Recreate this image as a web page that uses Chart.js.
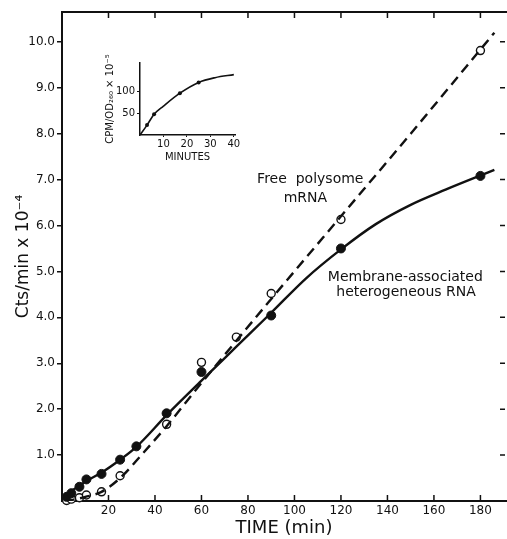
<!DOCTYPE html>
<html>
<head>
<meta charset="utf-8">
<script src="https://cdn.jsdelivr.net/npm/chart.js@4.4.1/dist/chart.umd.min.js"></script>
<style>
  html, body { margin: 0; padding: 0; background: #fff; }
  #wrap { position: relative; width: 507px; height: 539px; }
  #mainChart { position: absolute; left: 0; top: 0; }
  #insetChart { position: absolute; left: 98px; top: 48px; }
</style>
</head>
<body>
<div id="wrap">
  <canvas id="mainChart" width="507" height="539"></canvas>
  <canvas id="insetChart" width="142" height="115"></canvas>
</div>
<script>
var memTime = [2, 4, 7.5, 10.5, 17, 25, 32, 45, 60, 90, 120, 180];
var memCts = [0.09, 0.17, 0.31, 0.47, 0.59, 0.9, 1.19, 1.91, 2.81, 4.04, 5.5, 7.08];
var freeTime = [2, 4, 7.5, 10.5, 17, 25, 45, 60, 75, 90, 120, 180];
var freeCts = [0.01, 0.04, 0.07, 0.13, 0.2, 0.55, 1.67, 3.02, 3.57, 4.52, 6.13, 9.81];

// hand-drawn curves
var memCurveTime = [0, 5, 10, 17, 25, 32, 45, 60, 75, 90, 105, 120, 135, 150, 165, 186];
var memCurveCts = [0.08, 0.25, 0.42, 0.62, 0.9, 1.18, 1.87, 2.62, 3.36, 4.1, 4.85, 5.48, 6.03, 6.45, 6.78, 7.21];
var freeCurveTime = [1, 5, 10, 17, 25, 35, 45, 60, 90, 120, 150, 186];
var freeCurveCts = [0, 0.03, 0.09, 0.2, 0.5, 1.05, 1.63, 2.57, 4.4, 6.2, 8.0, 10.2];

var xTicks = [20, 40, 60, 80, 100, 120, 140, 160, 180];
var yTicks = [1, 2, 3, 4, 5, 6, 7, 8, 9, 10];

// inset: CPM/OD260 x 10^-5 against minutes
var insetMinutes = [0, 3, 6, 10, 17, 25, 32, 40];
var insetCpm = [0, 23, 48, 67, 97, 122, 133, 140];
var insetDotMinutes = [3, 6, 17, 25];
var insetDotCpm = [23, 48, 97, 122];
var insetXTicks = [10, 20, 30, 40];
var insetYTicks = [50, 100];

var FONT = 'DejaVu Sans';
var INK = '#111';

function toPoints(xs, ys) {
	return xs.map(function(x, i) { return { x: x, y: ys[i] }; });
}

// top frame line and the inward tick marks (bottom, top, right)
var frameMarks = {
	id: 'frameMarks',
	afterDatasetsDraw: function(chart) {
		var ctx = chart.ctx;
		var a = chart.chartArea;
		var xs = chart.scales.x;
		var ys = chart.scales.y;
		ctx.save();
		ctx.strokeStyle = INK;
		ctx.lineWidth = 2;
		ctx.beginPath();
		ctx.moveTo(a.left - 1, a.top);
		ctx.lineTo(a.right + 1, a.top);
		ctx.stroke();
		ctx.lineWidth = 1.5;
		ctx.beginPath();
		xTicks.forEach(function(v) {
			var px = xs.getPixelForValue(v);
			ctx.moveTo(px, a.bottom);
			ctx.lineTo(px, a.bottom - 6);
			ctx.moveTo(px, a.top);
			ctx.lineTo(px, a.top + 6);
		});
		yTicks.forEach(function(v) {
			var py = ys.getPixelForValue(v);
			ctx.moveTo(a.right - 1, py);
			ctx.lineTo(a.right - 6, py);
		});
		ctx.stroke();
		ctx.restore();
	}
};

// curve labels, placed in data units
var curveNotes = {
	id: 'curveNotes',
	afterDatasetsDraw: function(chart) {
		var ctx = chart.ctx;
		var xs = chart.scales.x;
		var ys = chart.scales.y;
		var notes = [
			{ text: 'Free  polysome', x: 106.8, y: 7.0 },
			{ text: 'mRNA', x: 104.7, y: 6.6 },
			{ text: 'Membrane-associated', x: 147.7, y: 4.88 },
			{ text: 'heterogeneous RNA', x: 148, y: 4.55 }
		];
		ctx.save();
		ctx.fillStyle = INK;
		ctx.font = '14px "' + FONT + '"';
		ctx.textAlign = 'center';
		ctx.textBaseline = 'middle';
		notes.forEach(function(n) {
			ctx.fillText(n.text, xs.getPixelForValue(n.x), ys.getPixelForValue(n.y));
		});
		ctx.restore();
	}
};

var mainChart = new Chart(document.getElementById('mainChart'), {
	type: 'scatter',
	data: {
		datasets: [{
			label: 'Membrane-associated heterogeneous RNA',
			data: toPoints(memCurveTime, memCurveCts),
			showLine: true,
			borderColor: INK,
			borderWidth: 2.4,
			pointRadius: 0,
			cubicInterpolationMode: 'monotone'
		}, {
			label: 'Free polysome mRNA',
			data: toPoints(freeCurveTime, freeCurveCts),
			showLine: true,
			borderColor: INK,
			borderWidth: 2.4,
			borderDash: [10, 6],
			pointRadius: 0,
			cubicInterpolationMode: 'monotone'
		}, {
			label: 'membrane points',
			data: toPoints(memTime, memCts),
			pointRadius: 4.5,
			pointBackgroundColor: INK,
			pointBorderColor: INK,
			pointBorderWidth: 1,
			clip: false
		}, {
			label: 'free points',
			data: toPoints(freeTime, freeCts),
			pointRadius: 4,
			pointBackgroundColor: '#fff',
			pointBorderColor: INK,
			pointBorderWidth: 1.4,
			clip: false
		}]
	},
	options: {
		responsive: false,
		animation: false,
		layout: { autoPadding: false, padding: { top: 12, right: 1, left: 0, bottom: 0 } },
		plugins: {
			legend: { display: false },
			tooltip: { enabled: false }
		},
		scales: {
			x: {
				type: 'linear',
				min: 0,
				max: 191,
				afterBuildTicks: function(s) { s.ticks = xTicks.map(function(v) { return { value: v }; }); },
				afterFit: function(s) { s.height = 38; s.paddingLeft = 0; s.paddingRight = 0; },
				grid: { display: false, drawTicks: false },
				border: { display: true, color: INK, width: 2 },
				ticks: { color: INK, font: { family: FONT, size: 12 }, padding: 3, maxRotation: 0, autoSkip: false },
				title: { display: true, text: 'TIME (min)', color: INK, font: { family: FONT, size: 18 }, padding: { top: 0, bottom: 0 } }
			},
			y: {
				type: 'linear',
				min: 0,
				max: 10.65,
				afterBuildTicks: function(s) { s.ticks = yTicks.map(function(v) { return { value: v }; }); },
				afterFit: function(s) { s.width = 62; s.paddingTop = 0; s.paddingBottom = 0; },
				grid: { drawOnChartArea: false, drawTicks: true, tickLength: 5, color: INK, lineWidth: 1.5 },
				border: { display: true, color: INK, width: 2 },
				ticks: {
					color: INK,
					font: { family: FONT, size: 12 },
					padding: 2,
					autoSkip: false,
					callback: function(v) { return v.toFixed(1); }
				},
				title: { display: true, text: 'Cts/min x 10⁻⁴', color: INK, font: { family: FONT, size: 17 }, padding: { top: 13, bottom: 0 } }
			}
		}
	},
	plugins: [frameMarks, curveNotes]
});

var insetChart = new Chart(document.getElementById('insetChart'), {
	type: 'scatter',
	data: {
		datasets: [{
			data: toPoints(insetMinutes, insetCpm),
			showLine: true,
			borderColor: INK,
			borderWidth: 1.6,
			pointRadius: 0,
			cubicInterpolationMode: 'monotone'
		}, {
			data: toPoints(insetDotMinutes, insetDotCpm),
			pointRadius: 2,
			pointBackgroundColor: INK,
			pointBorderWidth: 0
		}]
	},
	options: {
		responsive: false,
		animation: false,
		layout: { autoPadding: false, padding: { top: 15, right: 5, left: 0, bottom: 0 } },
		plugins: {
			legend: { display: false },
			tooltip: { enabled: false }
		},
		scales: {
			x: {
				type: 'linear',
				min: 0,
				max: 40.5,
				afterBuildTicks: function(s) { s.ticks = insetXTicks.map(function(v) { return { value: v }; }); },
				afterFit: function(s) { s.height = 28; s.paddingLeft = 0; s.paddingRight = 0; },
				grid: { drawOnChartArea: false, drawTicks: true, tickLength: 2, color: INK },
				border: { display: true, color: INK, width: 1.5 },
				ticks: { color: INK, font: { family: FONT, size: 10 }, padding: 1, maxRotation: 0, autoSkip: false },
				title: { display: true, text: 'MINUTES', color: INK, font: { family: FONT, size: 10 }, padding: { top: 0, bottom: 0 } }
			},
			y: {
				type: 'linear',
				min: 0,
				max: 167,
				afterBuildTicks: function(s) { s.ticks = insetYTicks.map(function(v) { return { value: v }; }); },
				afterFit: function(s) { s.width = 42; s.paddingTop = 0; s.paddingBottom = 0; },
				grid: { drawOnChartArea: false, drawTicks: true, tickLength: 3, color: INK },
				border: { display: true, color: INK, width: 1.5 },
				ticks: { color: INK, font: { family: FONT, size: 10 }, padding: 2, autoSkip: false },
				title: { display: true, text: 'CPM/OD₂₆₀ × 10⁻⁵', color: INK, font: { family: FONT, size: 10 }, padding: { top: 6, bottom: 0 } }
			}
		}
	}
});
</script>
</body>
</html>
